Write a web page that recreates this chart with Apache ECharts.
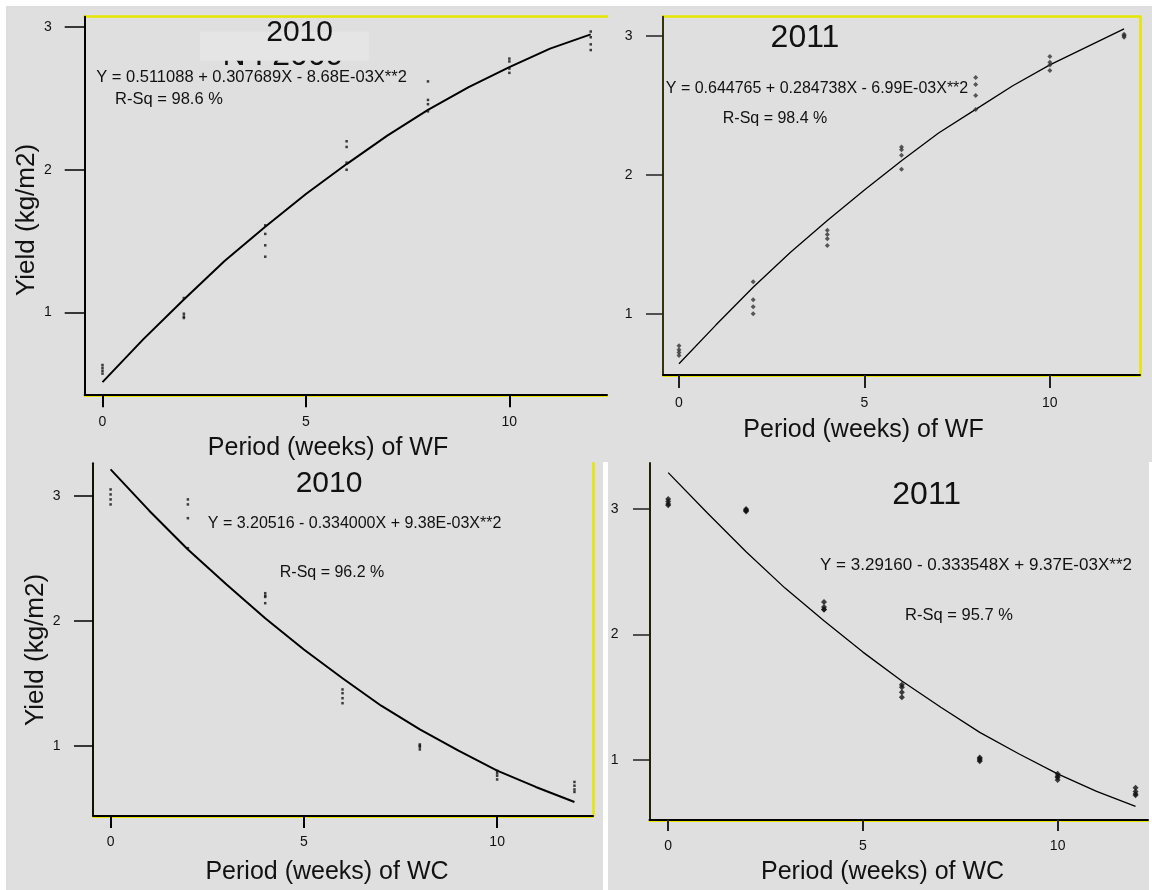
<!DOCTYPE html>
<html>
<head>
<meta charset="utf-8">
<style>
  html, body { margin: 0; padding: 0; background: #ffffff; }
  #chart { width: 1152px; height: 890px; }
</style>
<script src="https://cdn.jsdelivr.net/npm/echarts@6/dist/echarts.min.js"></script>
</head>
<body>
<div id="chart"></div>
<script>
// ---------------- DATA ----------------
const weeks = [0, 2, 4, 6, 8, 10, 12];
const xTicks = [0, 5, 10];
const yTicks = [1, 2, 3];

// observed yields (kg/m2), replicates per week
const wf2010 = [[0.63,0.61,0.59,0.57],[1.10,0.99,0.97,0.96],[1.61,1.55,1.47,1.39],[2.20,2.16,2.05,2.00],[2.62,2.49,2.46,2.41],[2.78,2.76,2.71,2.68],[2.97,2.93,2.88,2.84]];
const wf2011 = [[0.77,0.74,0.72,0.70],[1.23,1.10,1.05,1.00],[1.60,1.57,1.54,1.49],[2.20,2.18,2.14,2.04],[2.70,2.65,2.57,2.47],[2.85,2.81,2.79,2.75],[3.01,3.00,2.99,3.00]];
const wc2010 = [[3.05,3.01,2.97,2.93],[2.97,2.93,2.82,2.58],[2.22,2.20,2.19,2.14],[1.45,1.42,1.38,1.34],[1.01,1.00,0.99,0.97],[0.80,0.78,0.76,0.73],[0.71,0.68,0.65,0.63]];
const wc2011 = [[3.08,3.06,3.04,3.03],[2.99,3.00,2.98,2.99],[2.26,2.22,2.20,2.20],[1.60,1.58,1.54,1.50],[1.02,1.01,1.00,0.99],[0.89,0.87,0.86,0.84],[0.78,0.75,0.73,0.72]];

// fitted curves
const fitWeeks = [0,1,2,3,4,5,6,7,8,9,10,11,12];
const wf2010Fit = [0.51,0.81,1.09,1.36,1.60,1.83,2.04,2.24,2.42,2.58,2.72,2.85,2.95];
const wf2011Fit = [0.64,0.92,1.19,1.44,1.67,1.89,2.10,2.30,2.47,2.64,2.79,2.92,3.05];
const wc2010Fit = [3.21,2.88,2.57,2.29,2.02,1.77,1.54,1.32,1.13,0.96,0.80,0.67,0.55];
const wc2011Fit = [3.29,2.97,2.66,2.37,2.11,1.86,1.63,1.42,1.22,1.05,0.89,0.75,0.63];

// texts
const years = ['2010', '2011', '2010', '2011'];
const equations = [
  'Y = 0.511088 + 0.307689X - 8.68E-03X**2',
  'Y = 0.644765 + 0.284738X - 6.99E-03X**2',
  'Y = 3.20516 - 0.334000X + 9.38E-03X**2',
  'Y = 3.29160 - 0.333548X + 9.37E-03X**2'
];
const rsq = ['R-Sq = 98.6 %', 'R-Sq = 98.4 %', 'R-Sq = 96.2 %', 'R-Sq = 95.7 %'];
const xTitles = ['Period (weeks) of WF', 'Period (weeks) of WF', 'Period (weeks) of WC', 'Period (weeks) of WC'];
const yTitle = 'Yield (kg/m2)';

// ---------------- LAYOUT ----------------
const FONT = '"Liberation Sans", Arial, sans-serif';
const YEL = '#e6e600';
const BG = '#dfdfdf';

const panels = [
  { obs: wf2010, fit: wf2010Fit, grid: {left: 84.7, top: 16.7, width: 522.3, height: 377.6},
    xr: [-0.4375, 12.40], yr: [0.4246, 3.074], axisColor: '#000', axisW: 2, tickColor: '#000',
    xTickLen: 13, yTickLen: 20, xMargin: 21, yMargin: 33, lineW: 2,
    sym: 'rect', symSize: 2.5, symColor: '#111',
    yearPos: [299.6, 32.5], yearSize: 30, eqPos: [251.5, 77], eqSize: 16.5, rsqPos: [169, 99.3], rsqSize: 16.5,
    xtPos: [328, 448], yt: [27, 220], yelTop: true, yelRight: false },
  { obs: wf2011, fit: wf2011Fit, grid: {left: 663, top: 16.7, width: 477, height: 358.3},
    xr: [-0.431, 12.43], yr: [0.559, 3.137], axisColor: '#333311', axisW: 2, tickColor: '#222',
    xTickLen: 13, yTickLen: 17, xMargin: 21, yMargin: 30.5, lineW: 1.3,
    sym: 'diamond', symSize: 5, symColor: '#333',
    yearPos: [805, 38.3], yearSize: 32, eqPos: [817, 88.3], eqSize: 16, rsqPos: [775, 119], rsqSize: 16,
    xtPos: [863.5, 430], yt: null, yelTop: true, yelRight: true },
  { obs: wc2010, fit: wc2010Fit, grid: {left: 93, top: 463.3, width: 500, height: 352.2},
    xr: [-0.455, 12.48], yr: [0.4416, 3.259], axisColor: '#111100', axisW: 2, tickColor: '#000',
    xTickLen: 12.5, yTickLen: 19, xMargin: 20, yMargin: 32.5, lineW: 2,
    sym: 'rect', symSize: 2.5, symColor: '#111',
    yearPos: [329, 484], yearSize: 30, eqPos: [354.6, 523.3], eqSize: 16, rsqPos: [332, 572.3], rsqSize: 16,
    xtPos: [327, 871.7], yt: [35.4, 650], yelTop: false, yelRight: true },
  { obs: wc2011, fit: wc2011Fit, grid: {left: 649.5, top: 463, width: 498.5, height: 356.5},
    xr: [-0.48, 12.32], yr: [0.526, 3.367], axisColor: '#222200', axisW: 2, tickColor: '#222',
    xTickLen: 11.5, yTickLen: 16.5, xMargin: 20, yMargin: 31, lineW: 1.3,
    sym: 'diamond', symSize: 6, symColor: '#111',
    yearPos: [926.7, 495], yearSize: 32, eqPos: [976, 565], eqSize: 17, rsqPos: [959, 615.7], rsqSize: 16.5,
    xtPos: [882.6, 871.7], yt: null, yelTop: false, yelRight: false }
];

const grids = [], xAxes = [], yAxes = [], series = [], graphics = [];

// page frame (white strips between photographed panels)
graphics.push({ type: 'rect', shape: {x: 0, y: 0, width: 1152, height: 6}, style: {fill: '#fff'}, z: 0 });
graphics.push({ type: 'rect', shape: {x: 0, y: 0, width: 6, height: 890}, style: {fill: '#fff'}, z: 0 });
graphics.push({ type: 'rect', shape: {x: 603, y: 462, width: 5, height: 428}, style: {fill: '#fff'}, z: 0 });
graphics.push({ type: 'rect', shape: {x: 1149, y: 462, width: 3, height: 428}, style: {fill: '#fff'}, z: 0 });

function txt(text, pos, size, extra) {
  return Object.assign({
    type: 'text', x: pos[0], y: pos[1], z: 10,
    style: { text: text, font: size + 'px ' + FONT, fill: '#111', align: 'center', verticalAlign: 'middle' }
  }, extra || {});
}

panels.forEach((p, i) => {
  grids.push(Object.assign({ containLabel: false, show: false }, p.grid));
  const noDeco = { axisTick: {show: false}, axisLabel: {show: false}, splitLine: {show: false} };
  // yellow frame line under the bottom axis
  xAxes.push(Object.assign({ gridIndex: i, type: 'value', min: p.xr[0], max: p.xr[1], position: 'bottom', offset: 1,
    axisLine: { show: true, onZero: false, lineStyle: { color: YEL, width: 2 } }, z: 2 }, noDeco));
  // main bottom axis
  xAxes.push({
    gridIndex: i, type: 'value', min: p.xr[0], max: p.xr[1], position: 'bottom',
    axisLine: { show: true, onZero: false, lineStyle: { color: '#000', width: p.axisW } },
    axisTick: { show: true, customValues: xTicks, length: p.xTickLen, lineStyle: { color: p.tickColor, width: 2 } },
    axisLabel: { customValues: xTicks, margin: p.xMargin, fontSize: 14, color: '#111', fontFamily: FONT },
    splitLine: { show: false }, z: 5
  });
  const xIdx = xAxes.length - 1;
  // main left axis
  yAxes.push({
    gridIndex: i, type: 'value', min: p.yr[0], max: p.yr[1], position: 'left',
    axisLine: { show: true, onZero: false, lineStyle: { color: p.axisColor, width: p.axisW } },
    axisTick: { show: true, customValues: yTicks, length: p.yTickLen, lineStyle: { color: p.tickColor, width: 1.5 } },
    axisLabel: { customValues: yTicks, margin: p.yMargin, fontSize: 14, color: '#111', fontFamily: FONT },
    splitLine: { show: false }, z: 5
  });
  const yIdx = yAxes.length - 1;
  if (p.yelTop) {
    xAxes.push(Object.assign({ gridIndex: i, type: 'value', min: p.xr[0], max: p.xr[1], position: 'top',
      axisLine: { show: true, onZero: false, lineStyle: { color: YEL, width: 2.5 } }, z: 3 }, noDeco));
  }
  if (p.yelRight) {
    yAxes.push(Object.assign({ gridIndex: i, type: 'value', min: p.yr[0], max: p.yr[1], position: 'right',
      axisLine: { show: true, onZero: false, lineStyle: { color: YEL, width: 2.5 } }, z: 3 }, noDeco));
  }

  const pts = [];
  weeks.forEach((w, k) => p.obs[k].forEach(v => pts.push([w, v])));
  series.push({
    type: 'scatter', xAxisIndex: xIdx, yAxisIndex: yIdx, data: pts,
    symbol: p.sym, symbolSize: p.symSize, itemStyle: { color: p.symColor }, silent: true, z: 4
  });
  series.push({
    type: 'line', xAxisIndex: xIdx, yAxisIndex: yIdx,
    data: fitWeeks.map((w, k) => [w, p.fit[k]]),
    showSymbol: false, smooth: false, lineStyle: { color: '#000', width: p.lineW }, silent: true, z: 3
  });

  graphics.push(txt(years[i], p.yearPos, p.yearSize, { z: 12 }));
  graphics.push(txt(equations[i], p.eqPos, p.eqSize));
  graphics.push(txt(rsq[i], p.rsqPos, p.rsqSize));
  graphics.push(txt(xTitles[i], p.xtPos, 25));
  if (p.yt) graphics.push(txt(yTitle, p.yt, 26, { rotation: Math.PI / 2 }));
});

// leftover, partly covered heading in the first panel
graphics.push(txt('N I 2009', [283, 56], 32, { z: 9 }));
graphics.push({ type: 'rect', shape: {x: 199.8, y: 31.7, width: 169, height: 29}, style: {fill: '#e5e5e5'}, z: 11 });

const chart = echarts.init(document.getElementById('chart'), null, { renderer: 'canvas' });
chart.setOption({
  backgroundColor: BG,
  animation: false,
  grid: grids,
  xAxis: xAxes,
  yAxis: yAxes,
  series: series,
  graphic: { elements: graphics }
});
</script>
</body>
</html>
